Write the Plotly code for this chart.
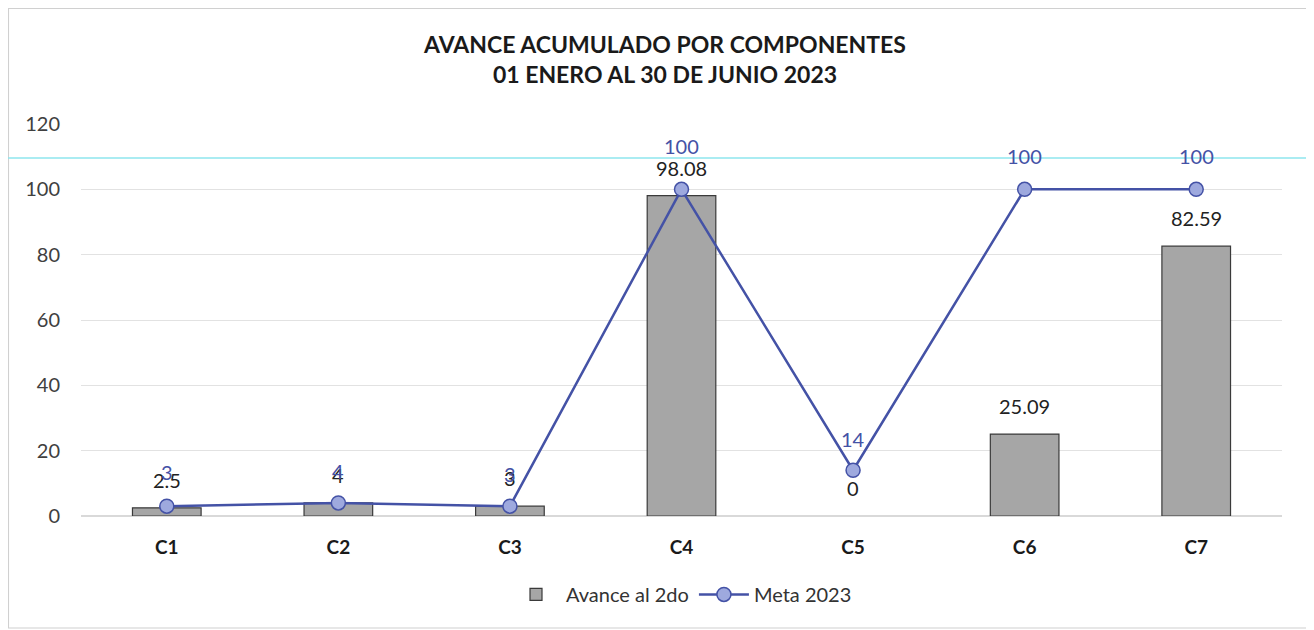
import plotly.graph_objects as go

categories = ["C1", "C2", "C3", "C4", "C5", "C6", "C7"]
avance = [2.5, 4, 3, 98.08, 0, 25.09, 82.59]
avance_labels = ["2.5", "4", "3", "98.08", "0", "25.09", "82.59"]
meta = [3, 4, 3, 100, 14, 100, 100]
meta_labels = ["3", "4", "3", "100", "14", "100", "100"]
meta_label_shift = [34, 32, 32, 43, 31, 33, 33]
y_ticks = [0, 20, 40, 60, 80, 100, 120]

FONT = "Lato, Open Sans, sans-serif"
BLUE = "#4452A6"

fig = go.Figure()
fig.add_trace(go.Bar(
    x=categories, y=avance, name="Avance al 2do", width=0.40,
    marker=dict(color="#A6A6A6",
                line=dict(color="#3A3A3A", width=[0 if v == 0 else 1.2 for v in avance])),
))
fig.add_trace(go.Scatter(
    x=categories, y=meta, name="Meta 2023", mode="lines+markers",
    line=dict(color=BLUE, width=2.5),
    marker=dict(size=14, color="#9EA9DE", line=dict(color=BLUE, width=1.5)),
))

annotations = []
for c, v, t in zip(categories, avance, avance_labels):
    annotations.append(dict(x=c, y=v, text=t, showarrow=False, yshift=28,
                            font=dict(family=FONT, size=20, color="#222222")))
for c, v, t, s in zip(categories, meta, meta_labels, meta_label_shift):
    annotations.append(dict(x=c, y=v, text=t, showarrow=False, yshift=s,
                            font=dict(family=FONT, size=20, color=BLUE)))

shapes = [
    dict(type="rect", xref="paper", yref="paper", x0=-0.0604, x1=1.0233, y0=-0.2857, y1=1.2946,
         line=dict(color="#D0D0D0", width=1.2), layer="below"),
    dict(type="line", xref="paper", yref="paper", x0=-0.08, x1=1.04, y0=0.913, y1=0.913,
         line=dict(color="#8EE6EE", width=1.5)),
]

fig.update_layout(
    width=1314, height=630,
    margin=dict(l=73, r=40, t=116, b=122),
    paper_bgcolor="white", plot_bgcolor="white",
    font=dict(family=FONT, size=19, color="#333333"),
    title=dict(text="<b>AVANCE ACUMULADO POR COMPONENTES<br>01 ENERO AL 30 DE JUNIO 2023</b>",
               x=0.5, xanchor="center", y=1 - 45 / 630, yanchor="middle",
               font=dict(family=FONT, size=23, color="#1A1A1A")),
    xaxis=dict(tickfont=dict(family=FONT, size=19, color="#1A1A1A"), ticklabelstandoff=18,
               tickprefix="<b>", ticksuffix="</b>", showline=False, showgrid=False),
    yaxis=dict(range=[0, 120], tickvals=y_ticks, gridcolor="#E2E2E2", gridwidth=1,
               zeroline=True, zerolinecolor="#D9D9D9", ticklabelstandoff=20,
               tickfont=dict(family=FONT, size=20, color="#404040")),
    legend=dict(orientation="h", x=0.5, xanchor="center", y=-0.2, yanchor="middle",
                itemwidth=50, font=dict(family=FONT, size=20, color="#333333")),
    annotations=annotations,
    shapes=shapes,
)

fig.write_html("out.html")
